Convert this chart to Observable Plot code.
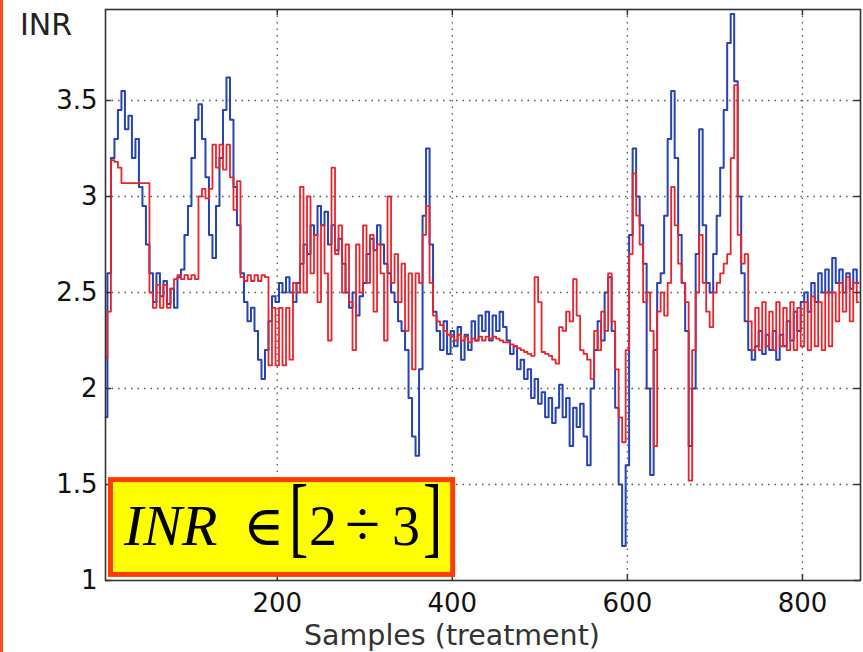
<!DOCTYPE html>
<html><head><meta charset="utf-8">
<script src="https://cdn.jsdelivr.net/npm/d3@7"></script>
<script src="https://cdn.jsdelivr.net/npm/@observablehq/plot@0.6"></script>
<style>
html,body{margin:0;padding:0;background:#fff;}
#chart{position:relative;width:863px;height:652px;overflow:hidden;}
</style></head><body><div id="chart"></div>
<script>
// Measured INR (blue) every 4 samples, starting at sample 4
const blueINR = [
1.85,2.6,3.2,3.3,3.45,3.55,3.35,3.42,3.2,3.3,
3.05,2.95,2.75,2.6,2.45,2.6,2.48,2.56,2.44,2.52,
2.42,2.58,2.62,2.8,2.95,3.2,3.4,3.48,3.3,3.1,
2.8,2.68,2.95,3.2,3.45,3.62,3.4,3.05,2.85,2.6,
2.45,2.35,2.42,2.3,2.15,2.05,2.2,2.35,2.48,2.45,
2.55,2.5,2.58,2.5,2.45,2.55,2.65,2.75,2.7,2.85,
2.8,2.95,2.85,2.92,2.75,2.85,2.72,2.78,2.65,2.5,
2.42,2.5,2.38,2.48,2.55,2.7,2.78,2.72,2.85,2.75,
2.65,2.6,2.5,2.45,2.35,2.3,2.2,1.95,1.75,1.65,
2.1,2.9,3.25,2.75,2.4,2.3,2.2,2.35,2.18,2.3,
2.22,2.32,2.15,2.28,2.2,2.35,2.25,2.38,2.3,2.4,
2.25,2.38,2.3,2.4,2.32,2.25,2.18,2.22,2.1,2.15,
2.05,2.1,1.95,2.05,1.92,1.98,1.85,1.95,1.82,1.9,
2.02,1.85,1.95,1.7,1.9,1.8,1.92,1.75,1.6,2.0,
2.2,2.35,2.25,2.5,2.58,2.3,1.9,1.5,1.18,1.6,
2.8,3.25,3.0,2.85,2.65,2.0,1.55,2.2,2.55,2.6,
2.9,3.3,3.55,3.2,2.8,2.55,2.3,1.7,2.0,2.7,
3.35,2.85,2.55,2.5,2.7,2.9,3.15,3.45,3.8,3.95,
3.6,3.0,2.6,2.35,2.2,2.15,2.22,2.3,2.18,2.28,
2.2,2.3,2.15,2.28,2.22,2.35,2.25,2.4,2.3,2.45,
2.5,2.4,2.55,2.45,2.6,2.5,2.62,2.5,2.68,2.55,
2.62,2.5,2.6,2.52,2.62,2.55
];
// Predicted / controlled INR (red) every 4 samples, starting at sample 4
const redINR = [
2.16,2.4,3.19,3.18,3.15,3.07,3.07,3.07,3.07,3.07,
3.07,3.07,3.07,2.5,2.42,2.54,2.42,2.54,2.42,2.52,
2.57,2.59,2.57,2.59,2.57,2.59,2.57,3.0,3.04,2.99,
3.04,3.27,3.15,3.27,3.14,3.27,3.1,2.93,3.08,2.58,
2.56,2.59,2.56,2.59,2.56,2.59,2.58,2.12,2.42,2.12,
2.42,2.12,2.42,2.15,2.55,2.5,3.05,2.5,3.0,2.6,
2.8,2.45,2.85,2.6,2.25,3.15,2.7,2.85,2.5,2.75,
2.45,2.2,2.75,2.5,2.85,2.55,2.8,2.4,2.75,2.6,
2.25,3.0,2.55,2.7,2.45,2.65,2.3,2.6,2.1,2.6,
2.55,2.8,2.95,2.55,2.38,2.35,2.33,2.3,2.28,2.27,
2.25,2.28,2.25,2.27,2.24,2.26,2.25,2.27,2.25,2.27,
2.26,2.27,2.26,2.25,2.24,2.24,2.23,2.22,2.21,2.2,
2.19,2.18,2.17,2.58,2.45,2.19,2.18,2.17,2.15,2.13,
2.32,2.3,2.4,2.35,2.57,2.38,2.2,2.18,2.15,2.05,
2.3,2.2,2.4,2.3,2.6,2.35,2.1,1.85,1.72,2.2,
2.7,3.12,2.9,2.75,2.45,2.5,2.3,1.7,2.4,2.5,
2.38,2.55,3.05,2.85,2.65,2.55,2.45,1.52,2.2,2.5,
2.8,2.55,2.4,2.32,2.5,2.55,2.6,2.65,2.7,3.2,
3.58,2.8,2.65,2.7,2.35,2.2,2.42,2.2,2.45,2.22,
2.4,2.2,2.45,2.22,2.42,2.2,2.45,2.2,2.42,2.22,
2.45,2.2,2.48,2.22,2.45,2.2,2.5,2.22,2.5,2.35,
2.55,2.4,2.58,2.35,2.55,2.45
];
const firstSample = 4;
const sampleStep = 4;
const xTicks = [200, 400, 600, 800];
const yTicks = [1, 1.5, 2, 2.5, 3, 3.5];
const xLabel = "Samples (treatment)";
const yLabel = "INR";
const rangeText = {lhs: "INR", elem: "\u2208", lo: "2", op: "\u00F7", hi: "3"};

const toRows = vals => vals.map((v, i) => ({sample: firstSample + i * sampleStep, inr: v}));
const blueData = toRows(blueINR);
const redData = toRows(redINR);

const W = 863, H = 652, mL = 105, mR = 3, mT = 9, mB = 72;
const xDomain = [3.8, 866.3];
const yDomain = [1, 3.974];
const pxPerY = (H - mT - mB) / (yDomain[1] - yDomain[0]);
const pxPerX = (W - mL - mR) / (xDomain[1] - xDomain[0]);
const tLenY = 6 / pxPerY, tLenX = 6 / pxPerX;

const gridStyle = {stroke: "#555", strokeDasharray: "1.5,5", strokeWidth: 1.3};
const tickStyle = {stroke: "#333", strokeWidth: 1.5};

const plot = Plot.plot({
  width: W, height: H,
  marginLeft: mL, marginRight: mR, marginTop: mT, marginBottom: mB,
  style: {fontFamily: "DejaVu Sans, Verdana, sans-serif", fontSize: "26px", color: "#111", background: "#fff"},
  x: {domain: xDomain, label: null},
  y: {domain: yDomain, label: null},
  marks: [
    Plot.ruleX(xTicks, gridStyle),
    Plot.ruleY(yTicks.filter(v => v > yDomain[0]), gridStyle),
    Plot.line(blueData, {x: "sample", y: "inr", curve: "step", stroke: "#2643b0", strokeWidth: 2}),
    Plot.line(redData, {x: "sample", y: "inr", curve: "step", stroke: "#e8242c", strokeWidth: 1.8}),
    Plot.ruleX(xTicks, {y1: yDomain[0], y2: yDomain[0] + tLenY, ...tickStyle}),
    Plot.ruleX(xTicks, {y1: yDomain[1], y2: yDomain[1] - tLenY, ...tickStyle}),
    Plot.ruleY(yTicks, {x1: xDomain[0], x2: xDomain[0] + tLenX, ...tickStyle}),
    Plot.ruleY(yTicks, {x1: xDomain[1], x2: xDomain[1] - tLenX, ...tickStyle}),
    Plot.frame({stroke: "#333", strokeWidth: 1.6}),
    Plot.axisX(xTicks, {tickSize: 0, tickPadding: 13, tickFormat: d => String(d), fill: "#111"}),
    Plot.axisY(yTicks, {tickSize: 0, tickPadding: 8, tickFormat: d => String(d), fill: "#111"})
  ]
});
document.getElementById("chart").appendChild(plot);

const svg = d3.select(plot);
const sx = plot.scale("x"), sy = plot.scale("y");

// left orange page strip
svg.append("rect").attr("x", 0).attr("y", 0).attr("width", 3).attr("height", H).attr("fill", "#ff4a1c");

// axis titles
svg.append("text").attr("x", 20).attr("y", 35).attr("text-anchor", "start")
  .attr("font-family", "DejaVu Sans, Verdana, sans-serif").attr("font-size", 30).attr("fill", "#222")
  .text(yLabel);
svg.append("text").attr("x", 452).attr("y", 645).attr("text-anchor", "middle")
  .attr("font-family", "DejaVu Sans, Verdana, sans-serif").attr("font-size", 28.5).attr("fill", "#333")
  .text(xLabel);

// yellow annotation box
const bx0 = sx.apply(7.2), bx1 = sx.apply(403.8);
const by0 = sy.apply(1.536), by1 = sy.apply(1.016);
const g = svg.append("g").attr("text-anchor", "start");
g.append("rect").attr("x", bx0 + 2.5).attr("y", by0 + 2.5)
  .attr("width", bx1 - bx0 - 5).attr("height", by1 - by0 - 5)
  .attr("fill", "#ffff00").attr("stroke", "#ff3c00").attr("stroke-width", 5);
const serif = "Liberation Serif, Times New Roman, DejaVu Serif, serif";
const base = by0 + 68;
g.append("text").attr("x", bx0 + 16).attr("y", base).attr("font-family", serif)
  .attr("font-style", "italic").attr("font-size", 58).attr("fill", "#000").text(rangeText.lhs);
g.append("text").attr("x", bx0 + 135).attr("y", base).attr("font-family", serif)
  .attr("font-size", 56).attr("fill", "#000").text(rangeText.elem);
g.append("text").attr("transform", `translate(${bx0 + 181},${base + 1}) scale(1,1.52)`)
  .attr("font-family", serif).attr("font-size", 58).attr("fill", "#000").text("[");
g.append("text").attr("x", bx0 + 201).attr("y", base).attr("font-family", serif)
  .attr("font-size", 56).attr("fill", "#000").text(rangeText.lo);
g.append("text").attr("x", bx0 + 237).attr("y", base).attr("font-family", serif)
  .attr("font-size", 64).attr("fill", "#000").text(rangeText.op);
g.append("text").attr("x", bx0 + 284).attr("y", base).attr("font-family", serif)
  .attr("font-size", 56).attr("fill", "#000").text(rangeText.hi);
g.append("text").attr("transform", `translate(${bx0 + 315},${base + 1}) scale(1,1.52)`)
  .attr("font-family", serif).attr("font-size", 58).attr("fill", "#000").text("]");
</script></body></html>
